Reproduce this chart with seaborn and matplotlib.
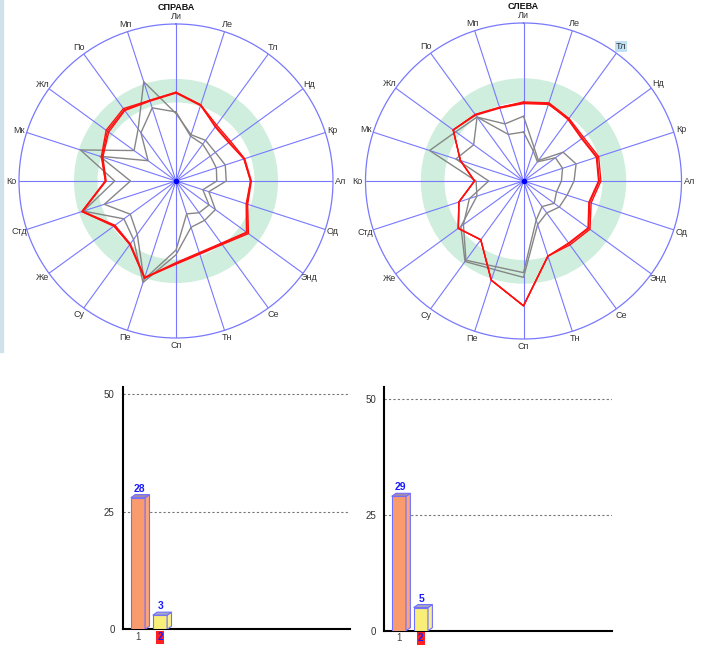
import numpy as np
import matplotlib
matplotlib.use("Agg")
import matplotlib.pyplot as plt
from matplotlib.patches import Polygon, Rectangle
import seaborn as sns

# axis labels, clockwise from the top
labels = ['Ли', 'Ле', 'Тл', 'Нд', 'Кр', 'Ал', 'Од', 'Энд', 'Се', 'Тн',
          'Сп', 'Пе', 'Су', 'Же', 'Стд', 'Ко', 'Мк', 'Жл', 'По', 'Мп']

# left radar (СПРАВА), values on a 0..100 scale
right_red1 = [56.5, 51, 44, 43, 46, 48, 48, 57, 50, 49, 53, 65, 50, 49, 63, 45, 50, 55, 57, 54]
right_red2 = [56, 50.5, 43, 42, 45.5, 47.5, 47.5, 56, 49.5, 48.5, 52.5, 64.5, 49.5, 48, 62.5, 44.5, 49, 53, 55.5, 53.5]
right_red3 = [56.5, 51, 42.5, 41.5, 45.5, 47.5, 47, 55.5, 49, 48, 52, 65, 50, 48.5, 63, 45, 49.5, 54, 56, 54]
right_gray1 = [43, 31, 32, 31, 33, 32, 22, 31, 31, 31, 47, 68, 46, 41, 62, 39, 64, 33, 41, 66.5]
right_gray2 = [44, 30, 29, 27, 27, 26, 18, 26, 25, 22, 44, 66, 42, 36, 48, 29, 51, 22, 38, 49]

# right radar (СЛЕВА)
left_red1 = [50, 52, 49, 47, 50, 49, 45, 52, 50, 50, 79, 66, 46, 51, 43, 31, 42, 55, 52, 49]
left_red2 = [49, 51, 48.5, 46, 49, 48, 44, 51, 49, 50, 79, 66, 46, 51, 43, 31, 42, 55, 51.5, 48.5]
left_red3 = [49.5, 51.5, 48, 45.5, 48.5, 47.5, 43.5, 50.5, 48.5, 50, 79, 66, 46, 51, 43, 31, 42, 55, 52, 49]
left_gray1 = [41, 22, 16, 31, 35, 32, 29, 28, 25, 29, 61, 59, 63, 49, 31, 30, 62.5, 53, 50, 38]
left_gray2 = [31, 20, 15, 25, 26, 24, 22, 24, 20, 26, 58, 57, 62, 47, 36, 22, 45, 39, 50, 31]

band_low, band_high = 50, 65

# bar charts
bar_cats = ['1', '2']
bars_right = [28, 3]
bars_left = [29, 5]

sns.set_style("white")
plt.rcParams['font.family'] = ['Liberation Sans', 'DejaVu Sans']

W, H = 705, 664
fig = plt.figure(figsize=(W / 100, H / 100), dpi=100)

# thin light strip at the left edge of the top panel
fig.patches.append(Rectangle((0, 1 - 352 / H), 3 / W, 352 / H,
                             transform=fig.transFigure, color='#cfe2ea', zorder=0))

blue = '#7878ff'
theta = np.linspace(0, 2 * np.pi, len(labels), endpoint=False)


def closed(vals):
    t = np.append(theta, theta[0] + 2 * np.pi)
    v = np.append(vals, vals[0])
    return t, v


def radar(rect, title, reds, grays, highlight=None):
    ax = fig.add_axes(rect, projection='polar')
    ax.set_theta_zero_location('N')
    ax.set_theta_direction(-1)
    ax.set_ylim(0, 100)
    ax.set_yticks([])
    ax.set_xticks(theta)
    ax.set_xticklabels([])
    ax.tick_params(axis='x', length=0)
    ax.xaxis.grid(True, color=blue, lw=0.8)
    ax.spines['polar'].set_color(blue)
    ax.spines['polar'].set_linewidth(0.9)
    ax.set_facecolor('white')

    # green target band
    ax.bar(0, band_high - band_low, width=2 * np.pi, bottom=band_low,
           color='#cfeedd', linewidth=0, zorder=0.2)

    for g in grays:
        t, v = closed(g)
        sns.lineplot(x=t, y=v, sort=False, estimator=None, color='#868686',
                     lw=1.0, ax=ax, zorder=3)
    for r in reds:
        t, v = closed(r)
        sns.lineplot(x=t, y=v, sort=False, estimator=None, color='#ff1010',
                     lw=1.0, ax=ax, zorder=4)
    ax.plot(0, 0, 'o', color='#0000ff', ms=3, zorder=5)
    ax.set_xlabel('')
    ax.set_ylabel('')

    for th, lab in zip(theta, labels):
        kw = {}
        if lab == highlight:
            kw['bbox'] = dict(boxstyle='square,pad=0.1', fc='#bfe0f5', ec='none')
        ax.text(th, 105, lab, ha='center', va='center', fontsize=6.5,
                color='#333333', clip_on=False, **kw)
    ax.text(0, 110.5, title, ha='center', va='center', fontsize=6.5,
            fontweight='bold', color='#111111', clip_on=False)
    return ax


radar([19 / W, 1 - 338 / H, 314 / W, 314 / H], 'СПРАВА',
      [right_red1, right_red2, right_red3], [right_gray1, right_gray2])
radar([365.5 / W, 1 - 339 / H, 316 / W, 316 / H], 'СЛЕВА',
      [left_red1, left_red2, left_red3], [left_gray1, left_gray2], highlight='Тл')

front = ['#fa9b6e', '#f9ee78']
side = ['#fba37a', '#fbf08e']
top = ['#a58aa6', '#a6a6c0']
edge = '#7070ff'


def bars(rect, vals, ymax, xlim):
    ax = fig.add_axes(rect)
    sns.barplot(x=bar_cats, y=vals, hue=bar_cats, palette=front, legend=False,
                width=0.65, edgecolor=edge, linewidth=0.8, saturation=1, ax=ax, zorder=3)
    ax.set_xlim(*xlim)
    ax.set_ylim(0, ymax)
    dx, dy = 0.2, 0.65
    for i, p in enumerate(ax.patches):
        x0, w, h = p.get_x(), p.get_width(), p.get_height()
        ax.add_patch(Polygon([(x0 + w, 0), (x0 + w + dx, dy), (x0 + w + dx, h + dy), (x0 + w, h)],
                             closed=True, fc=side[i], ec=edge, lw=0.8, zorder=3))
        ax.add_patch(Polygon([(x0, h), (x0 + dx, h + dy), (x0 + w + dx, h + dy), (x0 + w, h)],
                             closed=True, fc=top[i], ec=edge, lw=0.8, zorder=3))
        ax.text(x0 + w / 2 + 0.05, h + dy + 0.2, str(vals[i]), ha='center', va='bottom',
                fontsize=7.5, fontweight='bold', color='#1a1aff')
    ax.set_yticks([0, 25, 50])
    ax.set_yticklabels(['0', '25', '50'], fontsize=7, color='#333333')
    ax.set_xticks([0, 1])
    ax.set_xticklabels(bar_cats, fontsize=7)
    tl = ax.get_xticklabels()
    tl[0].set_color('#444444')
    tl[1].set_color('#1a1aff')
    tl[1].set_fontweight('bold')
    tl[1].set_bbox(dict(boxstyle='square,pad=0.15', fc='#ff2020', ec='none'))
    ax.tick_params(axis='x', length=0, pad=2)
    ax.tick_params(axis='y', length=4, width=0.8, color='#777777', direction='out', pad=2)
    ax.yaxis.grid(True, color='#777777', lw=0.8, ls=(0, (2, 2)))
    ax.set_axisbelow(True)
    for s in ['top', 'right']:
        ax.spines[s].set_visible(False)
    for s in ['left', 'bottom']:
        ax.spines[s].set_color('black')
        ax.spines[s].set_linewidth(1.5)
    ax.set_xlabel('')
    ax.set_ylabel('')
    return ax


bars([123 / W, (H - 629.3) / H, 227 / W, (629.3 - 386.7) / H], bars_right, 51.6, (-0.68, 9.64))
bars([384.3 / W, (H - 630.7) / H, 227.4 / W, (630.7 - 386.7) / H], bars_left, 52.65, (-0.66, 9.67))

fig.savefig('out.png', dpi=100)
